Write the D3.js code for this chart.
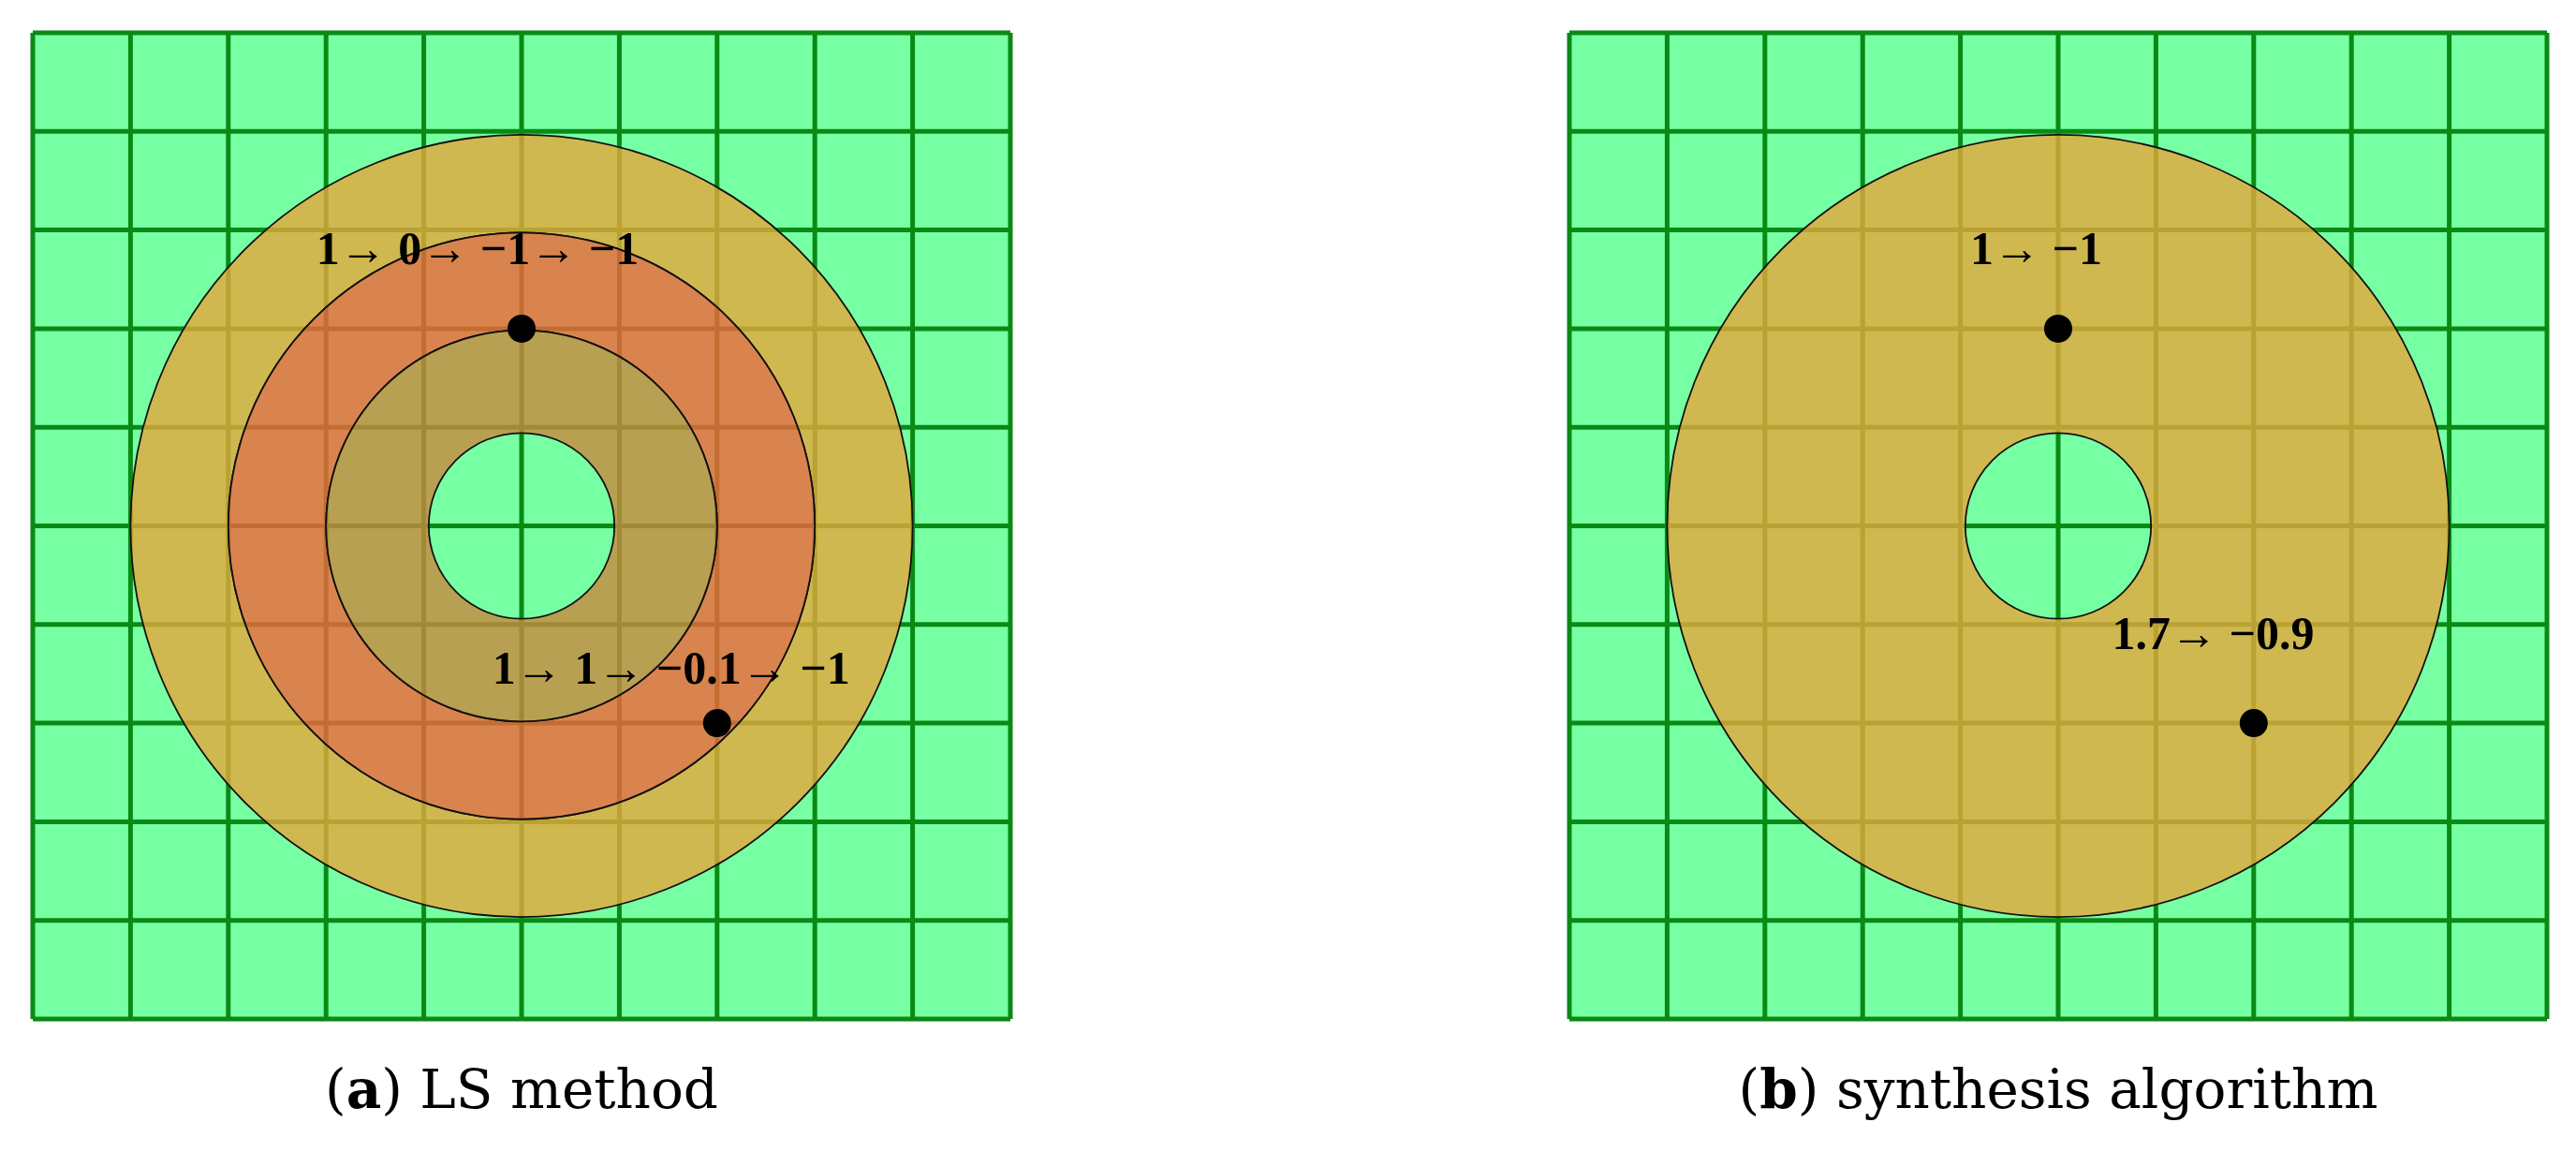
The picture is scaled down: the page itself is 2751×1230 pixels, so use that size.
<!DOCTYPE html>
<html><head><meta charset="utf-8">
<script src="https://cdn.jsdelivr.net/npm/d3@7"></script>
<style>body{margin:0;background:#fff}</style></head>
<body><svg id="c" width="2751" height="1230"></svg>
<script>
const gridTicks = [-5,-4,-3,-2,-1,0,1,2,3,4,5];
const ringsA = [[3,4,"#e5a63b"],[2,3,"#f1653a"],[0.95,2,"#c8883d"]];
const ringsB = [[0.95,4,"#e5a63b"]];
const pointsA = [[0,2],[2,-2]];
const pointsB = [[0,2],[2,-2]];
const labelsA = [["1\u2192 0\u2192 \u22121\u2192 \u22121",-2.1,2.65],["1\u2192 1\u2192 \u22120.1\u2192 \u22121",-0.3,-1.6]];
const labelsB = [["1\u2192 \u22121",-0.9,2.65],["1.7\u2192 \u22120.9",0.55,-1.25]];
const captions = [["a"," LS method"],["b"," synthesis algorithm"]];
const panels = [{x0:35,x1:1079,rings:ringsA,pts:pointsA,labels:labelsA,cap:captions[0]},
                {x0:1676,x1:2720,rings:ringsB,pts:pointsB,labels:labelsB,cap:captions[1]}];
const svg = d3.select("#c");
panels.forEach(p=>{
  const x = d3.scaleLinear().domain([-5,5]).range([p.x0,p.x1]);
  const y = d3.scaleLinear().domain([-5,5]).range([1088,35]);
  const g = svg.append("g");
  g.append("rect").attr("x",x(-5)).attr("y",y(5)).attr("width",x(5)-x(-5)).attr("height",y(-5)-y(5)).attr("fill","#77ffa4");
  g.selectAll(".v").data(gridTicks).join("line").attr("x1",d=>x(d)).attr("x2",d=>x(d)).attr("y1",y(5)).attr("y2",y(-5)).attr("stroke","#0a8a14").attr("stroke-width",5);
  g.selectAll(".h").data(gridTicks).join("line").attr("y1",d=>y(d)).attr("y2",d=>y(d)).attr("x1",x(-5)).attr("x2",x(5)).attr("stroke","#0a8a14").attr("stroke-width",5);
  const k = x(1)-x(0);
  const cx = x(0), cy = y(0);
  p.rings.forEach(([ri,ro,col])=>{
    const arc = d3.arc().innerRadius(ri*k).outerRadius(ro*k).startAngle(0).endAngle(2*Math.PI);
    g.append("path").attr("d",arc()).attr("transform",`translate(${cx},${cy})`).attr("fill",col).attr("fill-opacity",0.8);
    [ri,ro].forEach(r=>g.append("circle").attr("cx",cx).attr("cy",cy).attr("r",r*k).attr("fill","none").attr("stroke","#111").attr("stroke-width",1.8));
  });
  g.selectAll(".pt").data(p.pts).join("circle").attr("cx",d=>x(d[0])).attr("cy",d=>y(d[1])).attr("r",15).attr("fill","#000");
  g.selectAll(".lb").data(p.labels).join("text").attr("x",d=>x(d[1])).attr("y",d=>y(d[2]))
    .attr("font-family","Liberation Serif").attr("font-weight","bold").attr("font-size",50).attr("fill","#000").text(d=>d[0]);
  const t = g.append("text").attr("x",(p.x0+p.x1)/2).attr("y",1183).attr("text-anchor","middle")
    .attr("font-family","DejaVu Serif").attr("font-size",58).attr("fill","#000");
  t.append("tspan").text("(");
  t.append("tspan").attr("font-weight","bold").text(p.cap[0]);
  t.append("tspan").text(")"+p.cap[1]);
});
</script></body></html>
